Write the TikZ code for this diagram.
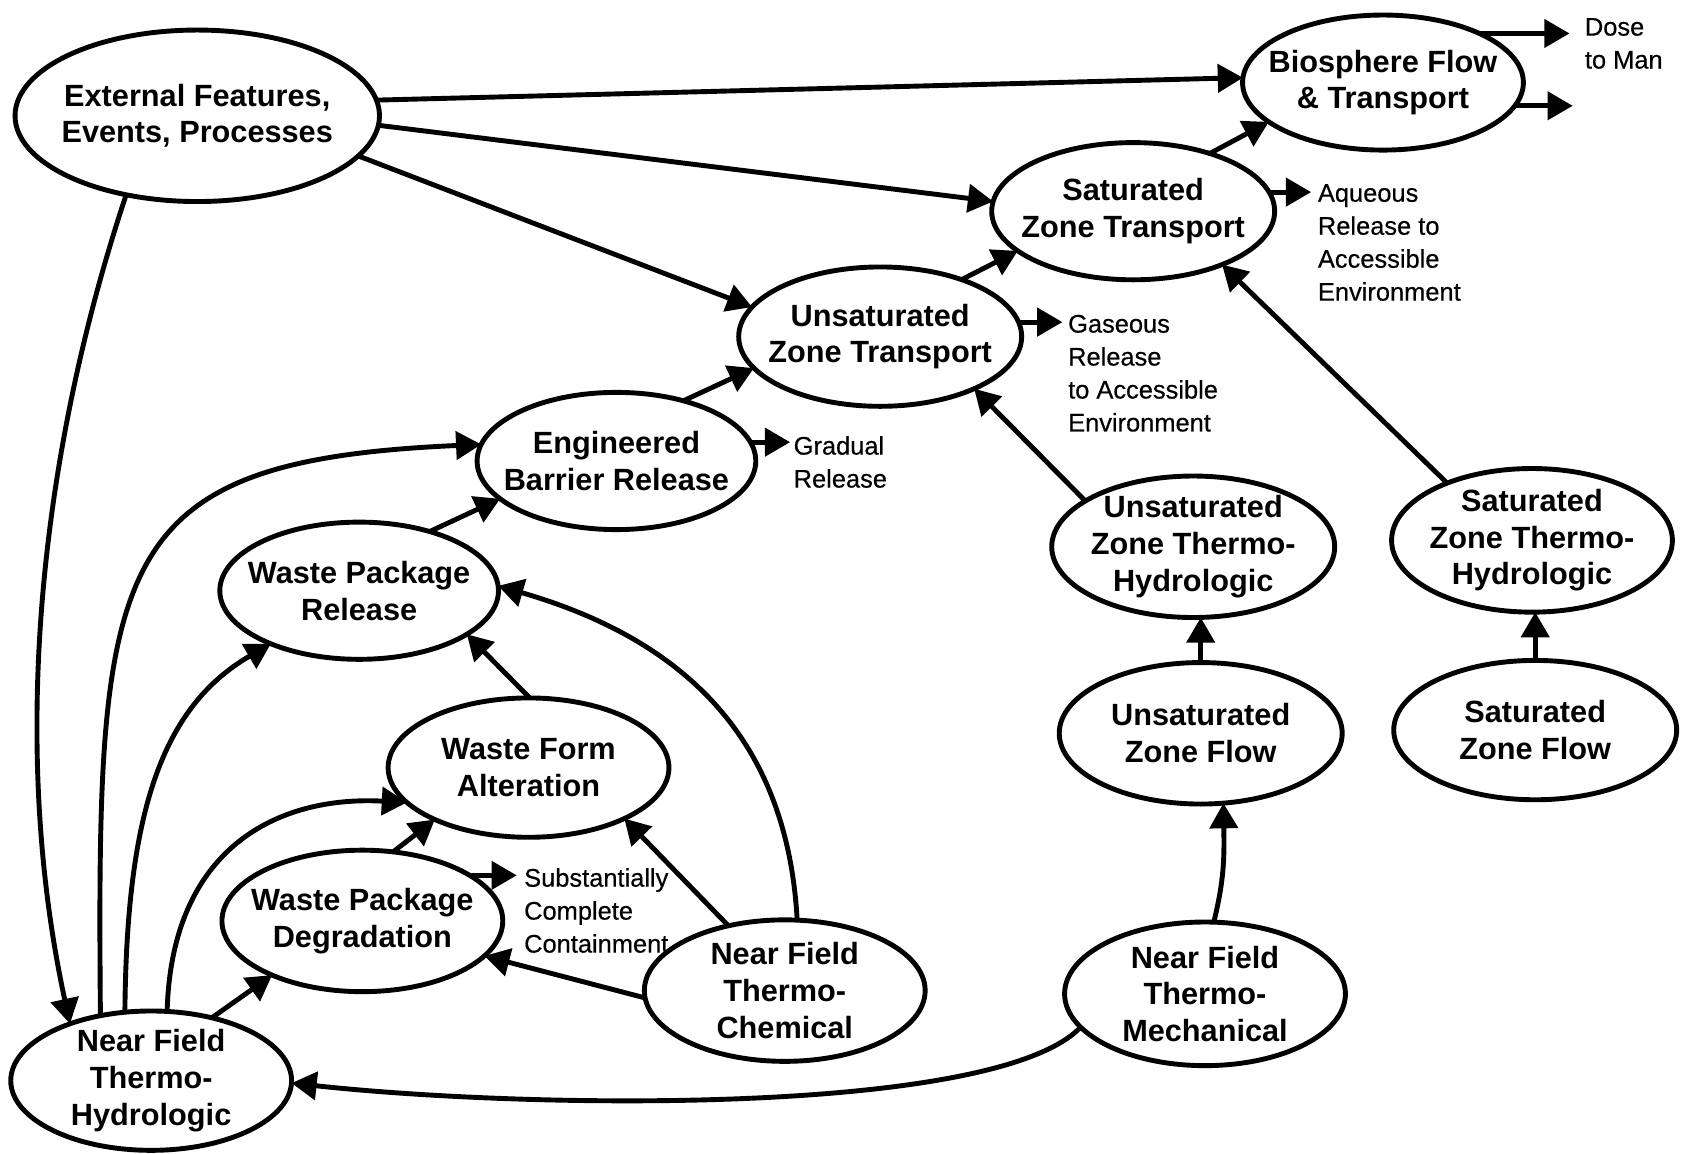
\documentclass[tikz,border=0pt]{standalone}
\usepackage{fontspec}
\setmainfont{Liberation Sans}
\newfontfamily\lblfont[FakeBold=0.4]{Liberation Sans}
\usetikzlibrary{shapes.geometric,arrows.meta}
\begin{document}
\begin{tikzpicture}[x=0.02cm,y=-0.02cm,
  ell/.style={draw, ellipse, line width=2.6pt, inner sep=0pt, outer sep=0pt},
  ltxt/.style={font=\fontsize{16.3}{19.5}\selectfont\bfseries, align=center, inner sep=0pt},
  stxt/.style={font=\lblfont\fontsize{13.5}{17.5}\selectfont, align=left, inner sep=0pt, anchor=north west},
  arr/.style={line width=2.6pt, -{Triangle[length=0.47cm,width=0.52cm]}}]
\path[fill=white] (0,0) rectangle (1568,1076);
\useasboundingbox (0,0) rectangle (1568,1076);

% nodes
\node[ell, minimum width=6.8cm, minimum height=3.2cm, label={[ltxt]center:{External Features,\\Events, Processes}}] (ext) at (184,108) {};
\node[ell, minimum width=5.24cm, minimum height=2.52cm, label={[ltxt]center:{Biosphere Flow\\\& Transport}}] (bio) at (1290,77) {};
\node[ell, minimum width=5.28cm, minimum height=2.56cm, label={[ltxt]center:{Saturated\\Zone Transport}}] (szt) at (1057,197) {};
\node[ell, minimum width=5.28cm, minimum height=2.6cm, label={[ltxt]center:{Unsaturated\\Zone Transport}}] (uzt) at (821,314) {};
\node[ell, minimum width=5.2cm, minimum height=2.56cm, label={[ltxt]center:{Engineered\\Barrier Release}}] (ebr) at (575,430) {};
\node[ell, minimum width=5.2cm, minimum height=2.56cm, label={[ltxt]center:{Waste Package\\Release}}] (wpr) at (335,551) {};
\node[ell, minimum width=5.24cm, minimum height=2.6cm, label={[ltxt]center:{Waste Form\\Alteration}}] (wfa) at (493,716) {};
\node[ell, minimum width=5.24cm, minimum height=2.64cm, label={[ltxt]center:{Waste Package\\Degradation}}] (wpd) at (338,859) {};
\node[ell, minimum width=5.24cm, minimum height=2.6cm, label={[ltxt]center:{Near Field\\Thermo-\\Hydrologic}}] (nfth) at (141,1008) {};
\node[ell, minimum width=5.24cm, minimum height=2.64cm, label={[ltxt]center:{Near Field\\Thermo-\\Chemical}}] (nftc) at (732,924) {};
\node[ell, minimum width=5.24cm, minimum height=2.68cm, label={[ltxt]center:{Near Field\\Thermo-\\Mechanical}}] (nftm) at (1124,927) {};
\node[ell, minimum width=5.28cm, minimum height=2.64cm, label={[ltxt]center:{Unsaturated\\Zone Flow}}] (uzf) at (1120,684) {};
\node[ell, minimum width=5.28cm, minimum height=2.6cm, label={[ltxt]center:{Saturated\\Zone Flow}}] (szf) at (1432,681) {};
\node[ell, minimum width=5.28cm, minimum height=2.64cm, label={[ltxt]center:{Unsaturated\\Zone Thermo-\\Hydrologic}}] (uzth) at (1113,510) {};
\node[ell, minimum width=5.24cm, minimum height=2.68cm, label={[ltxt]center:{Saturated\\Zone Thermo-\\Hydrologic}}] (szth) at (1429,504) {};

% side labels
\node[stxt] (dose) at (1478,16.5) {Dose\\to Man};
\node[stxt] (aq) at (1229,171.5) {Aqueous\\Release to\\Accessible\\Environment};
\node[stxt] (gas) at (996,293.3) {Gaseous\\Release\\to Accessible\\Environment};
\node[stxt] (grad) at (740,406.5) {Gradual\\Release};
\node[stxt] (scc) at (488.6,809.5) {Substantially\\Complete\\Containment};

% free arrow ends
\coordinate (dosetip) at (1464,29.5);
\coordinate (biotip) at (1467,98);
\coordinate (aqtip) at (1223,178);
\coordinate (gastip) at (991,300);
\coordinate (gradtip) at (737,413);
\coordinate (scctip) at (482,816.6);

% connectors
\draw[arr] (ext.5) -- (bio.178);
\draw[arr] (ext.-3) -- (szt.176);
\draw[arr] (ext.-14) -- (uzt.167);
\draw[arr] (ext.228) .. controls (35,430) and (10,700) .. (nfth.145);

\draw[arr] (nfth.128) .. controls (90,520) and (100,430) .. (ebr.173);
\draw[arr] (nfth.111) .. controls (118,760) and (150,660) .. (wpr.211);
\draw[arr] (nfth.77) .. controls (160,790) and (260,742) .. (wfa.196);
\draw[arr] (nfth.46) -- (wpd.211);

\draw[arr] (nftm.195) .. controls (930,1040) and (500,1035) .. (nfth.-1);
\draw[arr] (nftm.83) .. controls (1142,820) and (1142,800) .. (uzf.-72);
\draw[arr] (uzf.north) -- (uzf.north |- uzth.south);
\draw[arr] (szf.north) -- (szf.north |- szth.south);
\draw[arr] (uzth.157) -- (uzt.-29);
\draw[arr] (szth.146) -- (szt.-31);
\draw[arr] (uzt.35) -- (szt.199);
\draw[arr] (szt.37) -- (bio.199);
\draw[arr] (ebr.42) -- (uzt.194);
\draw[arr] (wpr.40) -- (ebr.198);
\draw[arr] (wfa.89) -- (wpr.-22);
\draw[arr] (wpd.66) -- (wfa.209);
\draw[arr] (nftc.131) -- (wfa.-28);
\draw[arr] (nftc.80) .. controls (735,700) and (650,600) .. (wpr.2);
\draw[arr] (nftc.183) -- (wpd.-16);

% release arrows
\draw[arr] (bio.27) -- (bio.27 -| dosetip);
\draw[arr] (bio.-10) -- (bio.-10 -| biotip);
\draw[arr] (szt.8) -- (szt.8 -| aqtip);
\draw[arr] (uzt.6) -- (uzt.6 -| gastip);
\draw[arr] (ebr.8) -- (ebr.8 -| gradtip);
\draw[arr] (wpd.23) -- (wpd.23 -| scctip);
\end{tikzpicture}
\end{document}
